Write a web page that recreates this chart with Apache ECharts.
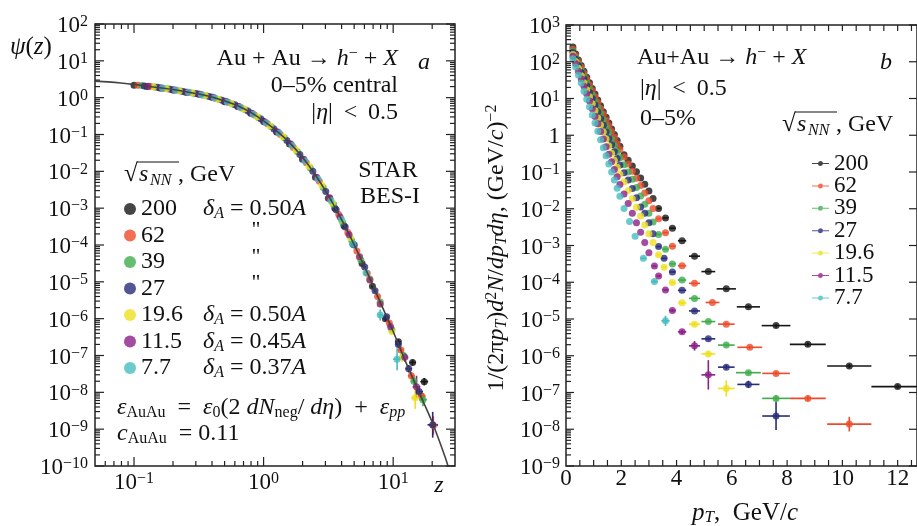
<!DOCTYPE html>
<html>
<head>
<meta charset="utf-8">
<title>Au+Au h- z-scaling</title>
<script src="https://cdn.jsdelivr.net/npm/echarts@6.0.0/dist/echarts.min.js"></script>
<style>
  html, body { margin: 0; padding: 0; background: #fff; }
  #chart { width: 917px; height: 526px; }
</style>
</head>
<body>
<div id="chart"></div>
<script>
const FONT = 'Liberation Serif';

// collision energies (GeV), one colour each
const energies = ['200', '62', '39', '27', '19.6', '11.5', '7.7'];
const colors = ['#161616', '#ee4b2b', '#3fac4c', '#282b7b', '#ede11f', '#8c1f88', '#45bdbf'];
const deltaA = ['0.50', '', '', '', '0.50', '0.45', '0.37']; // '' = ditto mark

// ---- panel a: psi(z) points as [log10 z, log10 psi, dlog z, dlog psi]
const psi200 = [[-1.0,0.34],[-0.9,0.30],[-0.8,0.26],[-0.7,0.21],[-0.6,0.15],[-0.5,0.09],[-0.4,0.01],[-0.3,-0.11],[-0.2,-0.24],[-0.1,-0.42],[0.0,-0.65],[0.1,-0.93],[0.2,-1.26],[0.3,-1.67],[0.4,-2.16],[0.5,-2.73],[0.55,-3.0],[0.62,-3.48],[0.69,-3.98],[0.76,-4.5],[0.84,-5.12,0.01,0.04],[0.94,-6.0,0.015,0.06],[1.04,-6.63,0.02,0.07],[1.15,-7.19,0.025,0.08],[1.24,-7.71,0.03,0.1]];
const psi62 = [[-0.97,0.34],[-0.87,0.30],[-0.77,0.25],[-0.67,0.2],[-0.57,0.14],[-0.47,0.07],[-0.37,-0.02],[-0.27,-0.13],[-0.17,-0.28],[-0.07,-0.47],[0.03,-0.71],[0.13,-1.0],[0.23,-1.35],[0.33,-1.77],[0.43,-2.27],[0.51,-2.73],[0.58,-3.17],[0.65,-3.66],[0.72,-4.16],[0.8,-4.77,0.01,0.04],[0.88,-5.4,0.012,0.05],[0.97,-6.12,0.015,0.06],[1.06,-6.85,0.02,0.08],[1.14,-7.55,0.025,0.1],[1.22,-8.1,0.03,0.12],[1.31,-8.9,0.035,0.25]];
const psi39 = [[-0.94,0.33],[-0.84,0.29],[-0.74,0.24],[-0.64,0.18],[-0.54,0.12],[-0.44,0.05],[-0.34,-0.05],[-0.24,-0.17],[-0.14,-0.33],[-0.04,-0.54],[0.06,-0.79],[0.16,-1.09],[0.26,-1.46],[0.36,-1.91],[0.46,-2.44],[0.54,-2.9],[0.61,-3.38],[0.68,-3.88],[0.75,-4.4],[0.82,-4.92,0.01,0.04],[0.9,-5.55,0.015,0.06],[0.99,-6.3,0.02,0.07],[1.08,-7.0,0.02,0.09],[1.16,-7.7,0.025,0.12],[1.23,-8.2,0.03,0.18]];
const psi27 = [[-0.92,0.32],[-0.82,0.28],[-0.72,0.23],[-0.62,0.17],[-0.52,0.11],[-0.42,0.03],[-0.32,-0.07],[-0.22,-0.19],[-0.12,-0.36],[-0.02,-0.58],[0.08,-0.85],[0.18,-1.16],[0.28,-1.54],[0.38,-2.0],[0.48,-2.55],[0.56,-3.04],[0.63,-3.51],[0.7,-4.0],[0.78,-4.6,0.01,0.04],[0.86,-5.24,0.012,0.05],[0.95,-5.95,0.015,0.06],[1.04,-6.7,0.02,0.08],[1.12,-7.36,0.025,0.1],[1.2,-7.98,0.03,0.14],[1.305,-8.88,0.04,0.35]];
const psi19 = [[-0.85,0.29],[-0.75,0.24],[-0.65,0.19],[-0.55,0.13],[-0.45,0.06],[-0.35,-0.04],[-0.25,-0.16],[-0.15,-0.31],[-0.05,-0.52],[0.05,-0.77],[0.15,-1.06],[0.25,-1.42],[0.35,-1.86],[0.45,-2.38],[0.53,-2.86],[0.6,-3.32],[0.67,-3.8],[0.74,-4.32],[0.82,-4.95,0.012,0.05],[0.9,-5.6,0.015,0.06],[0.99,-6.35,0.02,0.08],[1.07,-7.05,0.025,0.12],[1.17,-8.15,0.03,0.3]];
const psi11 = [[-0.89,0.31],[-0.79,0.26],[-0.69,0.21],[-0.59,0.15],[-0.49,0.09],[-0.39,0.01],[-0.29,-0.1],[-0.19,-0.24],[-0.09,-0.42],[0.01,-0.66],[0.11,-0.93],[0.21,-1.26],[0.31,-1.67],[0.41,-2.16],[0.51,-2.72],[0.59,-3.24],[0.66,-3.72],[0.74,-4.32],[0.82,-4.95,0.012,0.05],[0.9,-5.6,0.015,0.06],[0.98,-6.22,0.02,0.08],[1.09,-7.05,0.025,0.12],[1.18,-7.85,0.03,0.3]];
const psi7 = [[-0.78,0.26],[-0.68,0.21],[-0.58,0.15],[-0.48,0.08],[-0.38,0.0],[-0.28,-0.12],[-0.18,-0.26],[-0.08,-0.45],[0.02,-0.68],[0.12,-0.96],[0.22,-1.3],[0.32,-1.72],[0.42,-2.21],[0.52,-2.79],[0.6,-3.3],[0.69,-3.98,0.01,0.04],[0.79,-4.75,0.015,0.05],[0.9,-5.9,0.02,0.15],[1.03,-7.1,0.03,0.3]];

// fitted scaling curve, log10 z and log10 psi
const fitLz = [-1.301,-1.2,-1.1,-1.0,-0.9,-0.8,-0.7,-0.6,-0.5,-0.4,-0.3,-0.2,-0.1,0,0.1,0.2,0.3,0.4,0.5,0.6,0.7,0.8,0.9,1.0,1.1,1.2,1.3,1.4,1.45];
const fitLpsi = [0.45,0.43,0.40,0.36,0.31,0.27,0.22,0.16,0.10,0.02,-0.09,-0.22,-0.40,-0.63,-0.90,-1.22,-1.62,-2.10,-2.66,-3.30,-4.00,-4.75,-5.55,-6.35,-7.2,-8.0,-8.8,-9.75,-10.3];

// ---- panel b: log10 of 1/(2pi pT) d2N/dpTdeta
const ptLow = [0.25,0.35,0.45,0.55,0.65,0.75,0.85,0.95,1.05,1.15,1.25,1.35,1.45,1.55,1.65,1.75,1.85,1.95];
const low200 = [2.4,2.21,2.05,1.9,1.74,1.58,1.43,1.27,1.12,0.96,0.8,0.64,0.49,0.33,0.17,0.02,-0.14,-0.3];
const low62 = [2.34,2.16,2.0,1.85,1.68,1.52,1.37,1.21,1.05,0.89,0.73,0.57,0.41,0.26,0.1,-0.06,-0.23,-0.39];
const low39 = [2.29,2.11,1.94,1.77,1.6,1.43,1.26,1.09,0.92,0.76,0.59,0.41,0.24,0.08,-0.1,-0.27,-0.44,-0.61];
const low27 = [2.25,2.07,1.89,1.71,1.53,1.35,1.17,1.0,0.82,0.63,0.45,0.27,0.09,-0.09,-0.26,-0.45,-0.63,-0.81];
const low19 = [2.2,2.01,1.82,1.62,1.43,1.24,1.05,0.86,0.67,0.47,0.28,0.09,-0.1,-0.29,-0.49,-0.68,-0.87,-1.06];
const low11 = [2.15,1.95,1.74,1.54,1.33,1.13,0.93,0.72,0.51,0.31,0.1,-0.1,-0.31,-0.52,-0.72,-0.93,-1.13,-1.34];
const low7 = [2.08,1.86,1.64,1.42,1.2,0.98,0.77,0.55,0.33,0.11,-0.12,-0.34,-0.56,-0.78,-1.0,-1.22,-1.44,-1.66];
// higher pT bins: [pT, log10 yield, half bin width, dlog]
const high200 = [[2.1,-0.53],[2.25,-0.68],[2.4,-0.84],[2.55,-0.99],[2.7,-1.16],[2.85,-1.33],[3.0,-1.52],[3.15,-1.72],[3.35,-1.99,0.08,0],[3.6,-2.25,0.1,0],[3.85,-2.53,0.12,0],[4.2,-2.87,0.15,0],[4.65,-3.29,0.2,0],[5.15,-3.71,0.25,0],[5.8,-4.18,0.35,0.03],[6.6,-4.67,0.42,0.04],[7.6,-5.18,0.52,0.05],[8.75,-5.69,0.65,0.06],[10.25,-6.28,0.8,0.06],[12.0,-6.84,0.95,0.06]];
const high62 = [[2.1,-0.59],[2.25,-0.78],[2.4,-0.98],[2.55,-1.17],[2.7,-1.37],[2.85,-1.57],[3.0,-1.78],[3.15,-1.99],[3.35,-2.27,0.08,0],[3.6,-2.65,0.1,0],[3.85,-3.02,0.12,0],[4.2,-3.55,0.15,0],[4.65,-4.03,0.2,0],[5.3,-4.55,0.25,0],[5.8,-5.14,0.3,0.03],[6.65,-5.77,0.45,0.04],[7.6,-6.48,0.5,0.05],[8.75,-7.16,0.65,0.07],[10.25,-7.86,0.8,0.2]];
const high39 = [[2.1,-0.8],[2.25,-1.0],[2.4,-1.2],[2.55,-1.42],[2.7,-1.65],[2.85,-1.88],[3.0,-2.12],[3.15,-2.36],[3.35,-2.7,0.08,0],[3.6,-3.1,0.1,0],[3.85,-3.5,0.12,0],[4.2,-3.94,0.15,0],[4.65,-4.44,0.2,0],[5.15,-5.07,0.25,0.03],[5.8,-5.71,0.3,0.04],[6.6,-6.46,0.45,0.05],[7.6,-7.16,0.5,0.08]];
const high27 = [[2.1,-1.02],[2.25,-1.22],[2.4,-1.45],[2.55,-1.7],[2.7,-1.95],[2.85,-2.12],[3.0,-2.38],[3.15,-2.68],[3.35,-3.03,0.08,0],[3.55,-3.35,0.1,0],[3.85,-3.72,0.12,0],[4.2,-4.22,0.15,0],[4.65,-4.78,0.2,0.03],[5.15,-5.54,0.25,0.04],[5.8,-6.31,0.3,0.06],[6.6,-6.78,0.4,0.1],[7.6,-7.64,0.5,0.38]];
const high19 = [[2.1,-1.27],[2.25,-1.5],[2.4,-1.73],[2.55,-1.96],[2.7,-2.2],[2.85,-2.44],[3.0,-2.68],[3.15,-2.92],[3.35,-3.25,0.08,0],[3.55,-3.59,0.1,0],[3.85,-4.01,0.12,0],[4.2,-4.56,0.15,0.03],[4.65,-5.14,0.2,0.05],[5.15,-5.95,0.25,0.07],[5.8,-6.89,0.3,0.22]];
const high11 = [[2.1,-1.6],[2.25,-1.86],[2.4,-2.12],[2.55,-2.38],[2.7,-2.64],[2.85,-2.92],[3.0,-3.2],[3.2,-3.56,0.08,0],[3.35,-3.83,0.08,0],[3.6,-4.21,0.1,0],[3.85,-4.77,0.12,0.04],[4.2,-5.35,0.15,0.06],[4.65,-5.73,0.2,0.13],[5.15,-6.52,0.25,0.4]];
const high7 = [[2.1,-1.99],[2.3,-2.35],[2.5,-2.75],[2.8,-3.35,0.1,0],[3.2,-3.98,0.12,0.05],[3.6,-5.05,0.15,0.14]];

// tick labels
const decadesA = [-10,-9,-8,-7,-6,-5,-4,-3,-2,-1,0,1,2];
const decadesB = [-9,-8,-7,-6,-5,-4,-3,-2,-1,0,1,2,3];
const zLabels = [0.1, 1, 10];
const ptLabels = [0, 2, 4, 6, 8, 10, 12];

const psiSets = [psi200, psi62, psi39, psi27, psi19, psi11, psi7];
const lowSets = [low200, low62, low39, low27, low19, low11, low7];
const highSets = [high200, high62, high39, high27, high19, high11, high7];
const P = e => Math.pow(10, e);

const chart = echarts.init(document.getElementById('chart'), null, { renderer: 'canvas' });

function rich(fs) {
  const sm = Math.round(fs * 0.66);
  return {
    r: { font: fs + 'px ' + FONT, fill: '#111', lineHeight: fs + 2 },
    i: { font: 'italic ' + fs + 'px ' + FONT, fill: '#111', lineHeight: fs + 2 },
    sup: { font: sm + 'px ' + FONT, fill: '#111', lineHeight: sm, verticalAlign: 'top' },
    sub: { font: sm + 'px ' + FONT, fill: '#111', lineHeight: sm, verticalAlign: 'bottom' },
    subi: { font: 'italic ' + sm + 'px ' + FONT, fill: '#111', lineHeight: sm, verticalAlign: 'bottom' }
  };
}
function txt(x, y, text, fs, align, extra) {
  return Object.assign({
    type: 'text', x: x, y: y, silent: true,
    style: { text: text, rich: rich(fs), fill: '#111', font: fs + 'px ' + FONT,
      align: align || 'left', verticalAlign: 'middle' }
  }, extra || {});
}
function seg(x1, y1, x2, y2, color, w) {
  return { type: 'line', silent: true, shape: { x1: x1, y1: y1, x2: x2, y2: y2 },
    style: { stroke: color || '#222', lineWidth: w || 1.2 } };
}
// sqrt(s_NN), GeV header laid out piece by piece
function sqrtHeader(x, y) {
  return [
    txt(x, y - 1, '{r|√}', 25, 'left'),
    seg(x + 13, y - 13, x + 55, y - 13, '#111', 1.1),
    txt(x + 15, y, '{i|s}', 24, 'left'),
    txt(x + 26, y + 6, '{i|NN}', 16, 'left'),
    txt(x + 54, y, '{r|, GeV}', 24, 'left')
  ];
}

// axis ticks and labels drawn through each grid's scales
const tickRich = {
  b: { font: '23px ' + FONT, fill: '#111', lineHeight: 24 },
  s: { font: '16px ' + FONT, fill: '#111', lineHeight: 16, verticalAlign: 'top' }
};
function powLabel(k, plainOne) {
  if (plainOne && k === 0) return '{b|1}';
  return '{b|10}{s|' + (k < 0 ? '−' + (-k) : String(k)) + '}';
}
function tickSeries(gi, spec) {
  return {
    type: 'custom', name: 'axes' + gi, xAxisIndex: gi, yAxisIndex: gi, silent: true, z: 6, clip: false,
    data: [[spec.xmin, spec.ymin]],
    renderItem: function (params, api) {
      const ch = [];
      const bl = api.coord([spec.xmin, spec.ymin]);
      const tr = api.coord([spec.xmax, spec.ymax]);
      const L = bl[0], R = tr[0], B = bl[1], T = tr[1];
      spec.xTicks.forEach(function (t) {
        const px = api.coord([t.v, spec.ymin])[0];
        ch.push(seg(px, B, px, B - t.len));
        ch.push(seg(px, T, px, T + t.len));
        if (t.label) ch.push({ type: 'text', x: px, y: B + spec.xLabelDy, silent: true,
          style: { text: t.label, rich: tickRich, font: '23px ' + FONT, align: 'center', verticalAlign: 'middle' } });
      });
      spec.yTicks.forEach(function (t) {
        const py = api.coord([spec.xmin, t.v])[1];
        ch.push(seg(L, py, L + t.len, py));
        if (t.label || spec.rightMinor) ch.push(seg(R, py, R - t.len, py));
        if (t.label) ch.push({ type: 'text', x: L - spec.yLabelDx, y: py + 2, silent: true,
          style: { text: t.label, rich: tickRich, font: '23px ' + FONT, align: 'right', verticalAlign: 'middle' } });
      });
      return { type: 'group', children: ch };
    }
  };
}
const ticksA = { xmin: 0.05, xmax: 30, ymin: 1e-10, ymax: 100, xLabelDy: 17, yLabelDx: 7, rightMinor: true, xTicks: [], yTicks: [] };
[0.06,0.07,0.08,0.09,0.2,0.3,0.4,0.5,0.6,0.7,0.8,0.9,2,3,4,5,6,7,8,9,20].forEach(v => ticksA.xTicks.push({ v: v, len: 5 }));
zLabels.forEach(v => ticksA.xTicks.push({ v: v, len: 9, label: powLabel(Math.round(Math.log10(v))) }));
decadesA.forEach(k => {
  ticksA.yTicks.push({ v: P(k), len: 9, label: powLabel(k) });
  if (k < 2) for (let m = 2; m <= 9; m++) ticksA.yTicks.push({ v: m * P(k), len: 5 });
});
const ticksB = { xmin: 0, xmax: 12.7, ymin: 1e-9, ymax: 1000, xLabelDy: 13, yLabelDx: 6, rightMinor: false, xTicks: [], yTicks: [] };
for (let v = 0.5; v < 12.7; v += 0.5) ticksB.xTicks.push({ v: v, len: 6, label: ptLabels.indexOf(v) >= 0 ? '{b|' + v + '}' : null });
ticksB.xTicks.push({ v: 0, len: 0, label: '{b|0}' });
decadesB.forEach(k => {
  ticksB.yTicks.push({ v: P(k), len: 8, label: powLabel(k, true) });
  if (k < 3) for (let m = 2; m <= 9; m++) ticksB.yTicks.push({ v: m * P(k), len: 5 });
});

// error bars
function errRender(params, api) {
  const s = api.value(6);
  const c = api.coord([api.value(0), api.value(1)]);
  const xl = api.coord([api.value(2), api.value(1)])[0];
  const xr = api.coord([api.value(3), api.value(1)])[0];
  const yb = api.coord([api.value(0), api.value(4)])[1];
  const yt = api.coord([api.value(0), api.value(5)])[1];
  return { type: 'group', children: [
    seg(xl, c[1], xr, c[1], colors[s], 1.6),
    seg(c[0], yb, c[0], yt, colors[s], 1.6)
  ] };
}
const errA = [], errB = [];
psiSets.forEach((set, s) => set.forEach(p => {
  if (p.length > 2) errA.push([P(p[0]), P(p[1]), P(p[0] - p[2]), P(p[0] + p[2]), P(p[1] - p[3]), P(p[1] + p[3]), s]);
}));
highSets.forEach((set, s) => set.forEach(h => {
  if (h.length > 2) errB.push([h[0], P(h[1]), h[0] - h[2], h[0] + h[2], P(h[1] - h[3]), P(h[1] + h[3]), s]);
}));

const series = [
  { type: 'custom', name: 'errA', xAxisIndex: 0, yAxisIndex: 0, silent: true, z: 2, data: errA, renderItem: errRender },
  { type: 'custom', name: 'errB', xAxisIndex: 1, yAxisIndex: 1, silent: true, z: 2, clip: true, data: errB, renderItem: errRender }
];
energies.forEach((e, s) => {
  series.push({
    name: e, type: 'scatter', xAxisIndex: 0, yAxisIndex: 0, symbolSize: 7, z: 3, silent: true,
    itemStyle: { color: colors[s] },
    data: psiSets[s].map(p => [P(p[0]), P(p[1])])
  });
  series.push({
    name: e, type: 'scatter', xAxisIndex: 1, yAxisIndex: 1, symbolSize: 7, z: 3, silent: true,
    itemStyle: { color: colors[s] },
    data: ptLow.map((pt, j) => [pt, P(lowSets[s][j])]).concat(highSets[s].map(h => [h[0], P(h[1])]))
  });
});
series.push({
  name: 'fit', type: 'line', xAxisIndex: 0, yAxisIndex: 0, z: 4, silent: true, showSymbol: false,
  smooth: 0.3, clip: true, lineStyle: { color: '#444', width: 1.6 },
  data: fitLz.map((lz, i) => [P(lz), P(fitLpsi[i])])
});
series.push(tickSeries(0, ticksA));
series.push(tickSeries(1, ticksB));

// annotations
const sp = '\u2002';
let graphics = [
  txt(10, 47, '{i|ψ}{r|(}{i|z}{r|)}', 25, 'left'),
  txt(398, 59, '{r|Au + Au → }{i|h}{sup|−}{r| + }{i|X}', 24, 'right'),
  txt(418, 63, '{i|a}', 24, 'left'),
  txt(398, 86, '{r|0–5% central}', 24, 'right'),
  txt(398, 113, '{r||}{i|η}{r||\u2009 < \u20090.5}', 24, 'right'),
  txt(388, 171, '{r|STAR}', 24, 'center'),
  txt(390, 197, '{r|BES-I}', 24, 'center'),
  txt(117, 408, '{i|ε}{sub|AuAu}{r|' + sp + '=' + sp + '}{i|ε}{sub|0}{r|(2 }{i|dN}{sub|neg}{r|/ }{i|dη}{r|)' + sp + '+' + sp + '}{i|ε}{subi|pp}', 24, 'left'),
  txt(117, 434, '{i|c}{sub|AuAu}{r|' + sp + '= 0.11}', 24, 'left'),
  txt(439, 486, '{i|z}', 24, 'center'),
  txt(637, 58, '{r|Au+Au → }{i|h}{sup|−}{r| + }{i|X}', 24, 'left'),
  txt(880, 63, '{i|b}', 24, 'left'),
  txt(640, 89, '{r||}{i|η}{r||\u2009 < \u20090.5}', 24, 'left'),
  txt(640, 119, '{r|0–5%}', 24, 'left'),
  txt(497, 248, '{r|1/(2π}{i|p}{subi|T}{r|)}{i|d}{sup|2}{i|N}{r|/}{i|dp}{subi|T}{i|dη}{r|, (GeV/}{i|c}{r|)}{sup|−2}', 24, 'center', { rotation: Math.PI / 2 }),
  txt(745, 513, '{i|p}{subi|T}{r|,' + sp + 'GeV/}{i|c}', 25, 'center')
];
graphics = graphics.concat(sqrtHeader(124, 175), sqrtHeader(782, 125));
energies.forEach((e, s) => {
  const y = 206 + s * 26.5;
  if (deltaA[s]) graphics.push(txt(203, y + 3, '{i|δ}{subi|A}{r| = ' + deltaA[s] + '}{i|A}', 24, 'left'));
  else graphics.push(txt(256, y - 2, '{r|"}', 22, 'center'));
});

const option = {
  animation: false,
  backgroundColor: '#fff',
  textStyle: { fontFamily: FONT },
  grid: [
    { left: 95, top: 24, width: 360, height: 442, show: true, borderColor: '#222', borderWidth: 1.5, backgroundColor: 'transparent' },
    { left: 566, top: 25, width: 353, height: 441, show: true, borderColor: '#222', borderWidth: 1.5, backgroundColor: 'transparent' }
  ],
  xAxis: [
    { type: 'log', gridIndex: 0, min: 0.05, max: 30, axisLine: { show: false }, axisTick: { show: false }, axisLabel: { show: false }, splitLine: { show: false } },
    { type: 'value', gridIndex: 1, min: 0, max: 12.7, axisLine: { show: false }, axisTick: { show: false }, axisLabel: { show: false }, splitLine: { show: false } }
  ],
  yAxis: [
    { type: 'log', gridIndex: 0, min: 1e-10, max: 100, axisLine: { show: false }, axisTick: { show: false }, axisLabel: { show: false }, splitLine: { show: false } },
    { type: 'log', gridIndex: 1, min: 1e-9, max: 1000, axisLine: { show: false }, axisTick: { show: false }, axisLabel: { show: false }, splitLine: { show: false } }
  ],
  legend: [
    { orient: 'vertical', left: 119, top: 192, itemWidth: 12, itemHeight: 12, itemGap: 2.5, icon: 'circle',
      selectedMode: false, data: energies,
      textStyle: { fontFamily: FONT, fontSize: 24, color: '#111' } },
    { orient: 'vertical', left: 807, top: 147, itemWidth: 17, itemHeight: 5, itemGap: -0.6,
      selectedMode: false,
      data: energies.map(n => ({ name: n, icon: 'path://M0,2H17V3H0Z M8.5,0A2.5,2.5,0,1,1,8.49,0Z' })),
      textStyle: { fontFamily: FONT, fontSize: 23, color: '#111' } }
  ],
  graphic: graphics,
  series: series
};
chart.setOption(option);
</script>
</body>
</html>
